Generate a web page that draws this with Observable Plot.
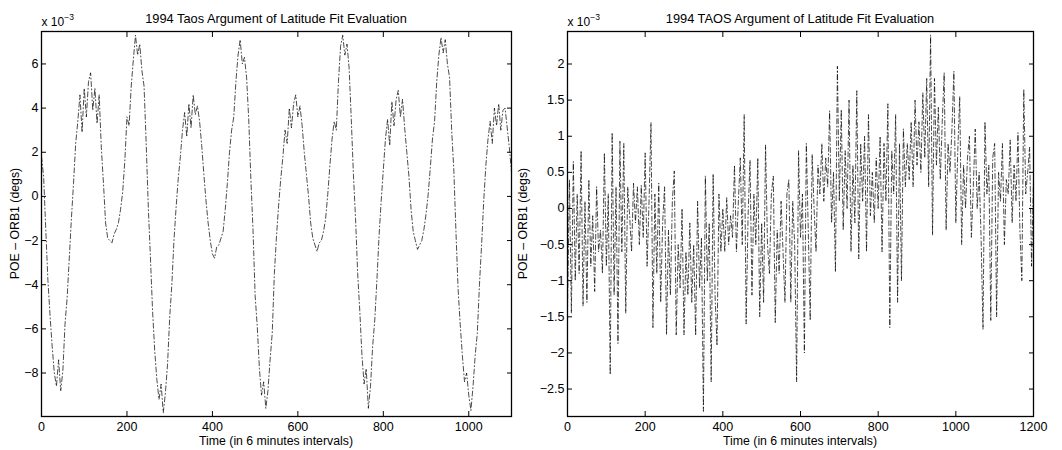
<!DOCTYPE html>
<html><head><meta charset="utf-8">
<script src="https://cdn.jsdelivr.net/npm/d3@7"></script>
<script src="https://cdn.jsdelivr.net/npm/@observablehq/plot@0.6"></script>
<style>
body{margin:0;background:#fff;}
#wrap{position:relative;width:1062px;height:450px;overflow:hidden;background:#fff;}
#wrap > svg{position:absolute;top:0;}
</style></head><body><div id="wrap"></div>
<script>
// Sampling grid (time index, in 6-minute intervals)
const leftTime = d3.range(0, 1101, 5);
const rightTime = d3.range(0, 1201, 5);

// Left panel: 1994 Taos, POE - ORB1 (x 10^-3 degs), read every 5 samples
const leftValues = [
  1.8, 0.9, -1.5, -3.8, -5.4, -6.8, -8.0, -8.6, -7.4, -8.8, -7.9, -5.8, -4.6, -2.8, -1.0, 0.6, 2.4, 3.4, 4.6, 2.9,
  4.9, 3.6, 5.2, 5.6, 3.9, 4.9, 3.3, 4.6, 2.2, 0.6, -1.2, -1.9, -2.0, -2.1, -1.7, -1.5, -1.2, -0.6, 0.2, 1.6,
  3.6, 3.2, 5.0, 6.2, 7.3, 6.4, 6.9, 5.7, 5.0, 2.4, -0.5, -2.8, -5.2, -7.0, -8.3, -9.2, -8.5, -9.8, -8.9, -7.6,
  -5.5, -4.0, -2.0, -0.5, 0.8, 1.8, 3.0, 3.8, 2.7, 4.2, 3.1, 4.6, 3.7, 4.1, 3.4, 2.3, 1.0, -0.2, -1.2, -2.0,
  -2.6, -2.8, -2.3, -2.2, -1.9, -1.6, -0.6, 0.6, 2.0, 3.0, 3.6, 5.2, 6.4, 7.1, 6.0, 6.3, 5.4, 3.5, 0.8, -1.5,
  -4.5, -5.9, -7.8, -9.0, -8.4, -9.6, -8.8, -7.4, -6.2, -3.5, -1.8, -0.4, 0.8, 1.8, 3.0, 2.4, 4.0, 3.1, 4.2, 4.6,
  3.6, 4.1, 3.2, 2.0, 1.0, 0.0, -1.2, -1.9, -2.2, -2.5, -2.1, -2.0, -1.6, -1.0, 0.1, 1.4, 2.6, 3.4, 3.0, 5.2,
  6.8, 7.3, 6.4, 6.9, 5.8, 3.5, 1.0, -1.0, -3.5, -5.2, -7.2, -8.5, -7.8, -9.6, -8.6, -6.8, -5.6, -3.8, -1.8, -0.2,
  1.2, 2.6, 3.5, 2.3, 4.3, 3.2, 4.4, 4.8, 3.6, 4.4, 3.1, 2.0, 0.9, -0.6, -1.6, -2.0, -2.4, -2.2, -2.0, -1.5,
  -0.8, 0.1, 1.3, 2.6, 3.4, 5.2, 6.4, 7.2, 6.5, 7.1, 6.0, 5.4, 3.0, 1.2, -1.6, -4.2, -5.8, -7.2, -8.4, -8.0,
  -9.0, -9.7, -8.6, -7.2, -6.2, -4.0, -2.2, -0.2, 1.4, 2.6, 3.4, 2.4, 4.0, 3.2, 4.2, 3.0, 3.9, 4.0, 3.1, 2.2,
  1.1
];

// Right panel: 1994 TAOS, POE - ORB1 (x 10^-3 degs), read every 5 samples
const rightValues = [
  -1.4, 0.4, -1.45, 0.65, -1.0, 0.2, -0.9, 0.8, -1.35, 0.1, -1.3, 0.4, -0.8, -0.1, -1.15, 0.3, -0.6, -0.3, -0.9, 0.77,
  -0.8, 0.2, -2.3, 1.05, -1.2, 0.3, -1.87, 0.93, -0.6, 0.9, -1.45, 0.3, -0.1, -0.6, 0.35, -0.2, 0.3, -0.5, 0.32, -0.4,
  0.77, -0.8, 0.1, 1.19, -1.65, 0.2, -0.9, 0.35, -1.3, -0.2, 0.3, -1.75, -0.3, -1.2, 0.1, 0.52, -1.75, -0.5, -1.1, 0.0,
  -1.75, -0.6, -1.2, -0.2, -1.3, -0.5, -1.76, 0.1, -1.1, -0.4, -2.81, 0.45, -1.0, -0.2, -2.4, 0.48, -1.2, -1.9, 0.2, -0.6,
  0.0, -0.6, 0.15, -0.5, -0.1, -0.4, 0.6, -0.6, 0.1, 0.7, -0.5, 1.3, -1.6, -0.1, 0.67, -1.2, 0.2, -0.5, 0.7, -1.5,
  -0.2, -1.3, 0.88, -0.5, -0.9, 0.2, 0.45, -1.58, -0.3, -0.9, 0.1, -0.6, -1.3, 0.2, 0.4, -1.3, 0.1, -0.5, -2.4, 0.8,
  -0.4, 0.2, -2.0, 0.9, -0.3, -1.55, 0.75, 0.0, -0.6, 0.6, 0.2, 0.9, 0.1, 0.7, 0.3, 1.35, -0.2, 0.5, -0.88, 1.97,
  0.1, 1.37, -0.3, 0.8, 0.0, 1.5, -0.6, 0.6, -0.2, 1.63, -0.7, 0.9, 0.1, 1.0, -0.6, 1.3, -0.1, 0.5, -0.2, 0.7,
  0.0, 1.0, -0.6, 0.9, 0.1, 1.45, -1.65, 0.8, 0.2, 1.3, -1.3, 0.9, -1.0, 1.1, 0.3, 0.9, 0.4, 1.2, 0.3, 1.5,
  0.6, 1.2, 0.5, 1.6, 0.7, 1.8, 0.3, 2.4, -0.37, 1.8, 0.6, 1.4, 0.4, 1.2, 1.88, -0.3, 0.9, 0.5, 1.1, 1.9,
  -0.2, 0.8, 1.55, -0.5, 0.6, 0.0, 0.7, 1.0, -0.4, 0.3, 1.1, 0.0, 0.5, -0.4, -1.67, 1.2, 0.2, 0.6, -1.55, 0.7,
  0.9, -1.5, 0.5, 0.1, 0.9, -0.5, 0.4, 0.2, 0.95, -0.2, 0.6, 0.1, 1.05, -0.3, -1.0, 1.65, 0.2, 0.5, 0.85, -0.8,
  0.4
];

// Tick labels
const leftXTicks = [0, 200, 400, 600, 800, 1000];
const leftYTicks = [-8, -6, -4, -2, 0, 2, 4, 6];
const rightXTicks = [0, 200, 400, 600, 800, 1000, 1200];
const rightYTicks = [-2.5, -2, -1.5, -1, -0.5, 0, 0.5, 1, 1.5, 2];

const titles = ["1994 Taos Argument of Latitude Fit Evaluation", "1994 TAOS Argument of Latitude Fit Evaluation"];
const xLabel = "Time (in 6 minutes intervals)";
const yLabel = "POE \u2013 ORB1 (degs)";

const FONT = "'Liberation Sans', Arial, Helvetica, sans-serif";

function panel({time, values, xDomain, yDomain, xTicks, yTicks, width, mL, mR, yFmt}) {
  const data = time.map((t, i) => ({t, v: values[i]}));
  return Plot.plot({
    width, height: 450,
    marginLeft: mL, marginRight: mR, marginTop: 31, marginBottom: 34,
    style: {fontFamily: FONT, fontSize: "12.5px", background: "transparent", color: "#000", overflow: "visible"},
    x: {domain: xDomain, label: null},
    y: {domain: yDomain, label: null},
    marks: [
      Plot.line(data, {x: "t", y: "v", stroke: "#000", strokeWidth: 0.7, strokeDasharray: "5,2.5,1,2.5", clip: true}),
      Plot.axisX(xTicks, {anchor: "bottom", tickSize: 0, tickPadding: 6, label: null, tickFormat: d3.format("d")}),
      Plot.axisX(xTicks, {anchor: "bottom", tickSize: 5, dy: -5, fill: "none", label: null}),
      Plot.axisX(xTicks, {anchor: "top", tickSize: 5, dy: 5, fill: "none", label: null}),
      Plot.axisY(yTicks, {anchor: "left", tickSize: 0, tickPadding: 3, label: null, tickFormat: yFmt}),
      Plot.axisY(yTicks, {anchor: "left", tickSize: 5, dx: 5, fill: "none", label: null}),
      Plot.axisY(yTicks, {anchor: "right", tickSize: 5, dx: -5, fill: "none", label: null}),
      Plot.frame({stroke: "#000", strokeWidth: 1.3})
    ]
  });
}

const wrap = document.getElementById("wrap");
const p1 = panel({time: leftTime, values: leftValues, xDomain: [0, 1100], yDomain: [-9.97, 7.47],
  xTicks: leftXTicks, yTicks: leftYTicks, width: 530, mL: 41, mR: 19, yFmt: d3.format("d")});
p1.style.left = "0px";
wrap.appendChild(p1);
const p2 = panel({time: rightTime, values: rightValues, xDomain: [0, 1200], yDomain: [-2.88, 2.45],
  xTicks: rightXTicks, yTicks: rightYTicks, width: 532, mL: 37, mR: 29, yFmt: d3.format("~f")});
p2.style.left = "530px";
wrap.appendChild(p2);

// Overlay with titles, axis labels and exponent labels
const ov = d3.select(wrap).append("svg")
  .attr("width", 1062).attr("height", 450)
  .style("left", "0px").style("pointer-events", "none")
  .attr("font-family", FONT).attr("fill", "#000");

const panels = [
  {cx: 276, left: 41, ylx: 18.5},
  {cx: 800, left: 567, ylx: 526.5}
];
panels.forEach((p, i) => {
  ov.append("text").attr("x", p.cx).attr("y", 22.5).attr("text-anchor", "middle")
    .attr("font-size", 12.8).text(titles[i]);
  ov.append("text").attr("x", p.cx).attr("y", 444.5).attr("text-anchor", "middle")
    .attr("font-size", 12.3).text(xLabel);
  ov.append("text").attr("transform", `translate(${p.ylx},223.5) rotate(-90)`)
    .attr("text-anchor", "middle").attr("font-size", 12.3).text(yLabel);
  const ex = ov.append("text").attr("x", p.left + 0.5).attr("y", 26).attr("font-size", 12);
  ex.append("tspan").text("x 10");
  ex.append("tspan").attr("font-size", 8.5).attr("dy", -6).text("\u22123");
});
</script></body></html>
